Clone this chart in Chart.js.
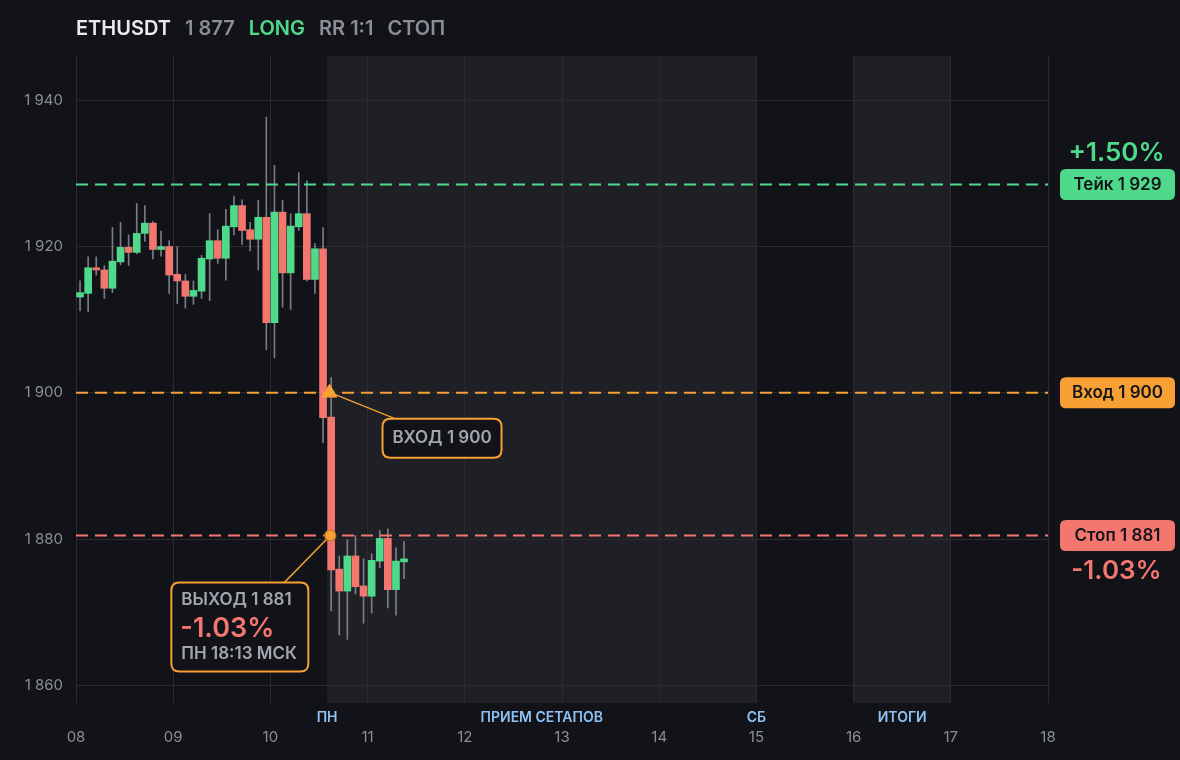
<!DOCTYPE html>
<html><head><meta charset="utf-8">
<script src="https://cdn.jsdelivr.net/npm/chart.js@4.4.1/dist/chart.umd.min.js"></script>
<style>
html,body{margin:0;padding:0;background:#121318;}
#wrap{position:relative;width:1180px;height:760px;overflow:hidden;background:#121318;}
canvas{position:absolute;left:0;top:0;}
#hdr{position:absolute;left:76px;top:15px;height:26px;line-height:26px;font-family:Inter,sans-serif;font-weight:600;font-size:20px;white-space:nowrap;display:flex;gap:14px;}
</style></head><body>
<div id="wrap"><canvas id="c" width="1180" height="760"></canvas>
<div id="hdr"><span style="color:#e9eaee">ETHUSDT</span><span id="hp" style="color:#8b8e97"></span><span style="color:#4fd98b">LONG</span><span style="color:#8b8e97">RR 1:1</span><span style="color:#8b8e97">СТОП</span></div></div>
<script>
// ---- data ----
const dayLabels = ['08','09','10','11','12','13','14','15','16','17','18'];
const candleHours = [1,3,5,7,9,11,13,15,17,19,21,23,25,27,29,31,33,35,37,39,41,43,45,47,49,51,53,55,57,59,61,63,65,67,69,71,73,75,77,79,81];
const opens  = [1913.1,1913.6,1917.1,1916.8,1914.3,1917.9,1919.9,1919.2,1921.8,1923.2,1919.6,1920.0,1916.2,1915.3,1913.2,1913.9,1918.3,1920.8,1918.4,1922.7,1925.6,1922.3,1921.0,1924.0,1909.6,1924.7,1916.4,1922.7,1924.5,1915.5,1919.7,1896.7,1875.9,1872.9,1877.7,1873.6,1872.2,1877.0,1880.1,1873.1,1876.9];
const highs  = [1915.3,1918.6,1918.6,1917.4,1922.6,1923.3,1921.6,1925.9,1925.6,1923.4,1922.1,1920.8,1920.0,1916.2,1915.3,1918.8,1924.5,1922.3,1925.1,1926.9,1926.4,1923.3,1926.3,1937.7,1931.1,1926.3,1924.5,1930.1,1929.0,1920.4,1922.6,1902.1,1877.7,1879.9,1880.5,1877.3,1878.0,1881.2,1881.4,1878.8,1879.7];
const lows   = [1911.2,1911.1,1916.1,1912.9,1913.7,1917.5,1917.4,1919.0,1920.7,1918.3,1918.7,1913.6,1912.2,1911.6,1912.1,1912.9,1912.6,1917.7,1915.4,1921.6,1920.3,1919.4,1916.8,1905.9,1904.8,1911.7,1911.4,1922.2,1915.3,1913.6,1893.2,1870.2,1866.9,1866.3,1872.5,1868.5,1869.9,1876.1,1870.6,1869.6,1874.6];
const closes = [1913.7,1917.1,1916.8,1914.3,1918.0,1919.9,1919.2,1921.8,1923.2,1919.6,1920.0,1916.1,1915.3,1913.2,1914.0,1918.4,1920.8,1918.4,1922.8,1925.6,1922.2,1921.0,1924.0,1909.6,1924.7,1916.4,1922.8,1924.5,1915.5,1919.7,1896.6,1875.8,1872.9,1877.7,1873.5,1872.2,1877.1,1880.1,1873.1,1877.0,1877.3];
const takeLevel = 1928.5;
const entryLevel = 1900;
const stopLevel = 1880.5;
const entryHour = 62.6;
const exitHour = 62.8;
const shadeStartHours = [62, 192];
const shadeEndHours = [168, 216];
const periodTexts = ['ПН', 'ПРИЕМ СЕТАПОВ', 'СБ', 'ИТОГИ'];
const periodHours = [62, 115, 168, 204];
const exitTimeText = 'ПН 18:13 МСК';

// ---- styles ----
const C = {shade:'#1f2025', grid:'#2a2b31', green:'#4fd98b', red:'#f3766f', orange:'#f7a033',
  wick:'rgba(140,143,152,0.85)', tick:'#8b8e97', blue:'#8ec1f4', boxText:'#a3a6ae', boxBg:'#121318', dark:'#14151a'};
const FONT = 'Inter, "Noto Sans", sans-serif';
const fmt = v => Math.round(v).toLocaleString('ru-RU');
const pct = v => { const p = (v - entryLevel) / entryLevel * 100; return (p >= 0 ? '+' : '-') + Math.abs(p).toFixed(2) + '%'; };

document.getElementById('hp').textContent = fmt(closes[closes.length - 1]);

function rr(ctx, x, y, w, h, r) {
  ctx.beginPath();
  ctx.moveTo(x + r, y); ctx.lineTo(x + w - r, y); ctx.quadraticCurveTo(x + w, y, x + w, y + r);
  ctx.lineTo(x + w, y + h - r); ctx.quadraticCurveTo(x + w, y + h, x + w - r, y + h);
  ctx.lineTo(x + r, y + h); ctx.quadraticCurveTo(x, y + h, x, y + h - r);
  ctx.lineTo(x, y + r); ctx.quadraticCurveTo(x, y, x + r, y); ctx.closePath();
}

const overlay = {
  id: 'overlay',
  beforeDraw(chart) {
    const {ctx, chartArea: a, scales: {x}} = chart;
    ctx.save();
    ctx.fillStyle = C.shade;
    shadeStartHours.forEach((s, i) => {
      const x0 = x.getPixelForValue(s), x1 = x.getPixelForValue(shadeEndHours[i]);
      ctx.fillRect(x0, a.top, x1 - x0, a.bottom - a.top);
    });
    ctx.restore();
  },
  beforeDatasetsDraw(chart) {
    const {ctx, scales: {x, y}} = chart;
    const ex = x.getPixelForValue(entryHour), ey = y.getPixelForValue(entryLevel);
    const sx = x.getPixelForValue(exitHour), sy = y.getPixelForValue(stopLevel);
    ctx.save();
    ctx.strokeStyle = C.orange; ctx.lineWidth = 1.2;
    ctx.beginPath(); ctx.moveTo(ex + 4, ey + 1); ctx.lineTo(ex + 66, ey + 26); ctx.stroke();
    ctx.lineWidth = 1.6;
    ctx.beginPath(); ctx.moveTo(sx, sy); ctx.lineTo(sx - 46, sy + 47); ctx.stroke();
    ctx.restore();
  },
  afterDatasetsDraw(chart) {
    const {ctx, chartArea: a, scales: {x, y}} = chart;
    ctx.save();
    // entry box
    const ex = x.getPixelForValue(entryHour), ey = y.getPixelForValue(entryLevel);
    rr(ctx, ex + 53, ey + 26, 119, 39, 8);
    ctx.fillStyle = C.boxBg; ctx.fill();
    ctx.strokeStyle = C.orange; ctx.lineWidth = 2; ctx.stroke();
    ctx.fillStyle = C.boxText; ctx.font = '600 17px ' + FONT;
    ctx.textAlign = 'center'; ctx.textBaseline = 'middle';
    ctx.fillText('ВХОД ' + fmt(entryLevel), ex + 53 + 59.5, ey + 26 + 19.5);
    // exit box
    const sx = x.getPixelForValue(exitHour), sy = y.getPixelForValue(stopLevel);
    rr(ctx, sx - 159, sy + 47, 137, 89, 8);
    ctx.fillStyle = C.boxBg; ctx.fill();
    ctx.strokeStyle = C.orange; ctx.lineWidth = 2; ctx.stroke();
    ctx.textAlign = 'left';
    ctx.fillStyle = C.boxText; ctx.font = '600 17px ' + FONT;
    ctx.fillText('ВЫХОД ' + fmt(stopLevel), sx - 149, sy + 64);
    ctx.fillStyle = C.red; ctx.font = '600 27px ' + FONT;
    ctx.fillText(pct(stopLevel), sx - 150, sy + 93);
    ctx.fillStyle = C.boxText; ctx.font = '600 17px ' + FONT;
    ctx.fillText(exitTimeText, sx - 149, sy + 118);
    // right pills
    const pl = a.right + 12, pw = 115, ph = 31, cx = pl + pw / 2;
    const pills = [[takeLevel, C.green, 'Тейк '], [entryLevel, C.orange, 'Вход '], [stopLevel, C.red, 'Стоп ']];
    ctx.textAlign = 'center';
    pills.forEach(([lv, col, txt]) => {
      const py = y.getPixelForValue(lv);
      rr(ctx, pl, py - ph / 2, pw, ph, 6);
      ctx.fillStyle = col; ctx.fill();
      ctx.fillStyle = C.dark; ctx.font = '600 17px ' + FONT;
      ctx.fillText(txt + fmt(lv), cx, py + 0.5);
    });
    ctx.font = '600 26px ' + FONT;
    ctx.fillStyle = C.green; ctx.fillText(pct(takeLevel), cx - 1, y.getPixelForValue(takeLevel) - 31);
    ctx.fillStyle = C.red; ctx.fillText(pct(stopLevel), cx - 1, y.getPixelForValue(stopLevel) + 36);
    // period labels
    ctx.font = '600 14px ' + FONT; ctx.fillStyle = C.blue;
    periodTexts.forEach((t, i) => ctx.fillText(t, x.getPixelForValue(periodHours[i]), a.bottom + 14.5));
    ctx.restore();
  }
};

function draw() {
  Chart.defaults.font.family = FONT;
  const wickData = candleHours.map((h, i) => ({x: h, y: [lows[i], highs[i]]}));
  const bodyData = candleHours.map((h, i) => ({x: h, y: [opens[i], closes[i]]}));
  const bodyColors = candleHours.map((h, i) => closes[i] >= opens[i] ? C.green : C.red);
  const hline = (lv, col) => ({type: 'line', data: [{x: 0, y: lv}, {x: 240, y: lv}], borderColor: col,
    borderWidth: 2, borderDash: [12, 7], pointRadius: 0, order: 0});
  new Chart(document.getElementById('c'), {
    type: 'bar',
    data: {datasets: [
      {type: 'line', data: [{x: entryHour, y: entryLevel}], showLine: false, pointStyle: 'triangle',
        pointRadius: 8.5, backgroundColor: C.orange, borderColor: C.orange, borderWidth: 1, order: -2},
      {type: 'line', data: [{x: exitHour, y: stopLevel}], showLine: false, pointStyle: 'circle',
        pointRadius: 5.5, backgroundColor: C.orange, borderColor: '#b8741f', borderWidth: 1.2, order: -2},
      hline(takeLevel, C.green), hline(entryLevel, C.orange), hline(stopLevel, C.red),
      {data: bodyData, backgroundColor: bodyColors, barThickness: 7, grouped: false, borderWidth: 0, order: 1},
      {data: wickData, backgroundColor: C.wick, barThickness: 1, grouped: false, borderWidth: 0, order: 2}
    ]},
    options: {
      responsive: false, animation: false, devicePixelRatio: 1,
      layout: {padding: {top: 56, right: 132, left: 0, bottom: 0}},
      plugins: {legend: {display: false}, tooltip: {enabled: false}},
      scales: {
        x: {type: 'linear', min: 0, max: 240, offset: false,
          grid: {color: C.grid, lineWidth: 1, drawTicks: false, offset: false},
          border: {display: false},
          ticks: {stepSize: 24, padding: 25, color: C.tick, font: {size: 15}, maxRotation: 0, includeBounds: false,
            callback: v => dayLabels[Math.round(v / 24)]},
          afterFit: s => { s.height = 57; }},
        y: {type: 'linear', min: 1857.6, max: 1946.05,
          grid: {color: C.grid, lineWidth: 1, drawTicks: false},
          border: {display: false},
          ticks: {stepSize: 20, padding: 13, color: C.tick, font: {size: 15}, includeBounds: false,
            callback: v => v.toLocaleString('ru-RU')},
          afterFit: s => { s.width = 76; }}
      }
    },
    plugins: [overlay]
  });
}
const fl = document.fonts ? Promise.all([document.fonts.load('600 16px Inter'), document.fonts.load('400 15px Inter')]) : Promise.resolve();
fl.then(draw, draw);
</script>
</body></html>
